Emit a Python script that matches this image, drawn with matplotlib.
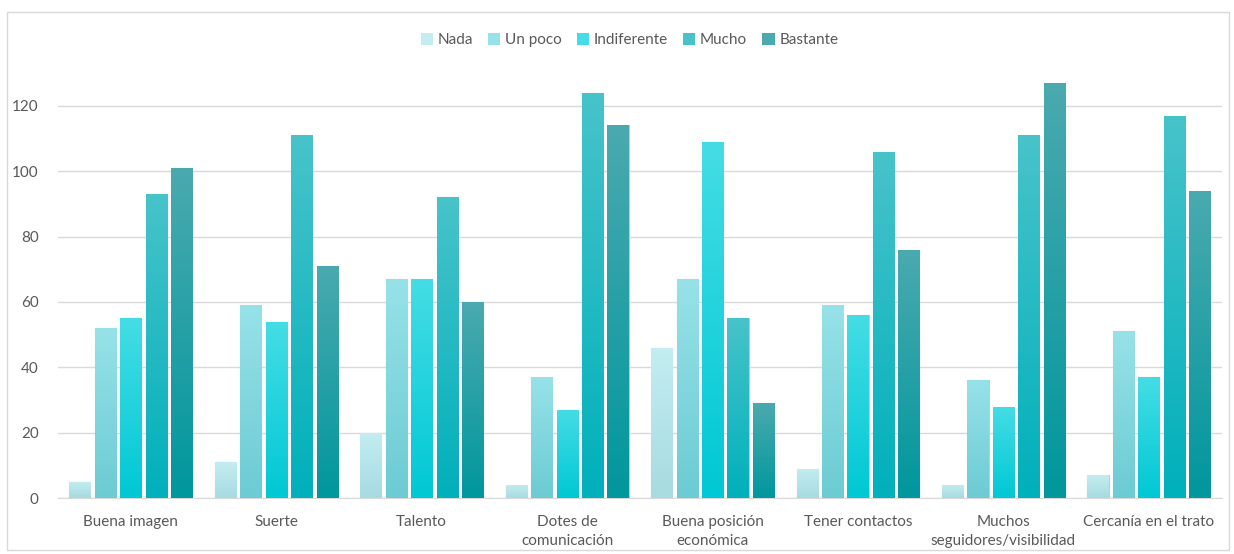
import matplotlib.pyplot as plt
import numpy as np
from matplotlib.colors import LinearSegmentedColormap
from matplotlib.patches import Rectangle

plt.rcParams['font.family'] = ['Lato', 'DejaVu Sans']

categories = ["Buena imagen", "Suerte", "Talento", "Dotes de\ncomunicación",
              "Buena posición\neconómica", "Tener contactos",
              "Muchos\nseguidores/visibilidad", "Cercanía en el trato"]
series = ["Nada", "Un poco", "Indiferente", "Mucho", "Bastante"]

nada = [5, 11, 20, 4, 46, 9, 4, 7]
un_poco = [52, 59, 67, 37, 67, 59, 36, 51]
indiferente = [55, 54, 67, 27, 109, 56, 28, 37]
mucho = [93, 111, 92, 124, 55, 106, 111, 117]
bastante = [101, 71, 60, 114, 29, 76, 127, 94]

# top / bottom colours of each gradient
grads = [("#c3edf1", "#a6dbe0"),
         ("#97e2e8", "#6ccbd3"),
         ("#45dde5", "#00c8d4"),
         ("#48c3ca", "#00b0bb"),
         ("#4aaaaf", "#00979d")]

fig = plt.figure(figsize=(12.34, 5.54), dpi=100)
ax = fig.add_axes([0.047, 0.101, 0.943, 0.773])

# outer frame of the chart
fig.patches.append(Rectangle((0.006, 0.008), 0.99, 0.97, transform=fig.transFigure,
                             fill=False, edgecolor="#d9d9d9", linewidth=1))

x = np.arange(len(categories))
step = 0.175
width = 0.145
data = [nada, un_poco, indiferente, mucho, bastante]
grad = np.linspace(1, 0, 256).reshape(-1, 1)

for i, vals in enumerate(data):
    cmap = LinearSegmentedColormap.from_list("g%d" % i, [grads[i][1], grads[i][0]])
    pos = x + (i - 2) * step
    bars = ax.bar(pos, vals, width, color=grads[i][1], label=series[i],
                  edgecolor="#c8c8c8", linewidth=0.8, zorder=2)
    for b, v in zip(bars, vals):
        im = ax.imshow(grad, cmap=cmap, aspect="auto", zorder=3,
                       extent=[b.get_x(), b.get_x() + width, 0, v])
        im.set_clip_path(b)

ax.set_xlim(-0.5, len(categories) - 0.5)
ax.set_ylim(0, 131)
ax.set_yticks(range(0, 121, 20))
ax.set_xticks(x)
ax.set_xticklabels(categories, fontsize=11, color="#595959", linespacing=1.5)
ax.tick_params(axis="y", labelsize=11, labelcolor="#595959", length=0, pad=14)
ax.tick_params(axis="x", length=0, pad=12)
ax.grid(axis="y", color="#d9d9d9", linewidth=1, zorder=0)
ax.set_axisbelow(True)
for s in ["top", "right", "left"]:
    ax.spines[s].set_visible(False)
ax.spines["bottom"].set_color("#d9d9d9")

handles = [Rectangle((0, 0), 1, 1, facecolor=g[0]) for g in grads]
fig.legend(handles, series, loc="upper center", bbox_to_anchor=(0.51, 0.965), ncol=5,
           frameon=False, fontsize=11, labelcolor="#595959", handlelength=0.8,
           handleheight=0.8, handletextpad=0.3, columnspacing=1.0)

fig.savefig("out.png", dpi=100)
